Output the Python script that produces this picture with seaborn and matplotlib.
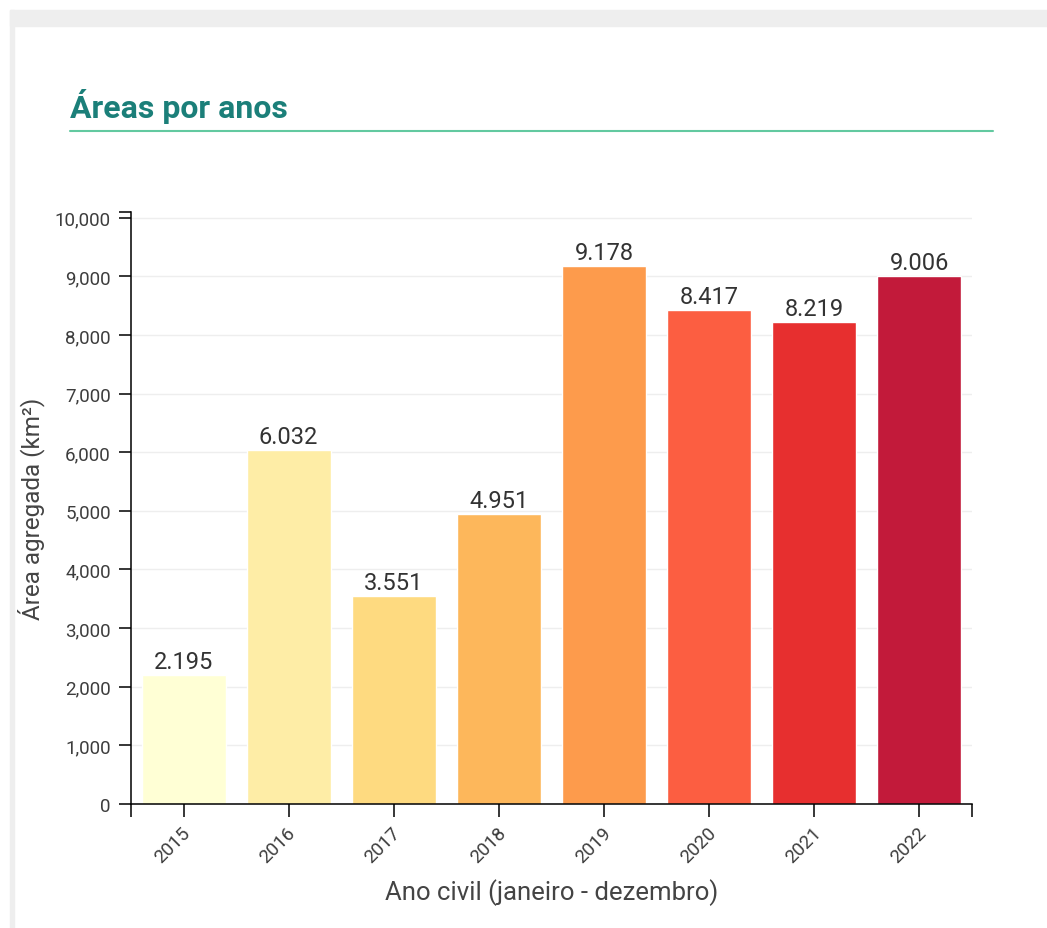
import matplotlib
matplotlib.use("Agg")
import matplotlib.pyplot as plt
from matplotlib.patches import Rectangle
from matplotlib.lines import Line2D
from matplotlib.ticker import FuncFormatter
from matplotlib.transforms import ScaledTranslation
import seaborn as sns
import pandas as pd

# Chart data
years = ["2015", "2016", "2017", "2018", "2019", "2020", "2021", "2022"]
areas = [2195, 6032, 3551, 4951, 9178, 8417, 8219, 9006]
bar_colors = ["#FFFFD5", "#FEEDA6", "#FEDA80", "#FDB75B",
              "#FD9B4C", "#FC5E41", "#E72F2F", "#C21A3A"]

df = pd.DataFrame({"Ano": years, "Area": areas})

sns.set_style("white")
plt.rcParams["font.family"] = ["Roboto", "DejaVu Sans"]

W, H = 1047, 929
fig = plt.figure(figsize=(W / 100, H / 100), dpi=100)

# page frame (grey band on top and left)
fig.patches.append(Rectangle((10 / W, 1 - 27 / H), (W - 10) / W, 16 / H,
                             transform=fig.transFigure, color="#eeeeee", zorder=0))
fig.patches.append(Rectangle((10 / W, 0), 4 / W, 1 - 11 / H,
                             transform=fig.transFigure, color="#eeeeee", zorder=0))

# title and underline
fig.text(70 / W, 1 - 106 / H, "Áreas por anos", fontsize=23, fontweight="bold",
         color="#1b7f79", va="center", ha="left")
fig.lines.append(Line2D([70 / W, 993 / W], [1 - 132 / H, 1 - 132 / H],
                        transform=fig.transFigure, color="#62c9a0", lw=1.5))

ax = fig.add_axes([131 / W, 1 - 805 / H, (972 - 131) / W, (805 - 213) / H])

sns.barplot(data=df, x="Ano", y="Area", hue="Ano", palette=bar_colors,
            legend=False, width=0.8, saturation=1, ax=ax, zorder=2)

for cont, v in zip(ax.containers, areas):
    ax.bar_label(cont, labels=[f"{v:,}".replace(",", ".")], padding=1.5,
                 fontsize=17, color="#333333")

ax.set_xlim(-0.5, len(years) - 0.5)
ax.set_ylim(0, max(areas) * 1.1)
ax.set_yticks(range(0, 10001, 1000))
ax.yaxis.set_major_formatter(FuncFormatter(lambda x, p: f"{x:,.0f}"))
ax.set_xticks(range(len(years)))
ax.set_xticks([-0.5, len(years) - 0.5], minor=True)
ax.set_yticks([max(areas) * 1.1], minor=True)

ax.grid(axis="y", color="#eeeeee", lw=1, zorder=0)
ax.set_axisbelow(True)

for s in ["top", "right"]:
    ax.spines[s].set_visible(False)
for s in ["left", "bottom"]:
    ax.spines[s].set_color("black")
    ax.spines[s].set_linewidth(1.1)

ax.tick_params(axis="both", which="both", length=9, width=1.1, color="black",
               direction="out", bottom=True, left=True)
ax.tick_params(axis="y", labelsize=13.5, labelcolor="#3d3d3d", pad=5.5)
ax.tick_params(axis="x", labelsize=13.5, labelcolor="#3d3d3d", pad=8)
ax.tick_params(axis="both", which="minor", labelsize=0)
shift = ScaledTranslation(4 / 100, -2 / 100, fig.dpi_scale_trans)
for lab in ax.get_xticklabels():
    lab.set_rotation(45)
    lab.set_ha("right")
    lab.set_va("center")
    lab.set_rotation_mode("anchor")
    lab.set_transform(lab.get_transform() + shift)

ax.set_xlabel("Ano civil (janeiro - dezembro)", fontsize=18.5, color="#444444", va="top")
ax.xaxis.set_label_coords(0.5, -(879 - 805) / (805 - 213))
ax.set_ylabel("Área agregada (km²)", fontsize=17.5, color="#444444")
ax.yaxis.set_label_coords((45 - 131) / (972 - 131), 0.5)

fig.savefig("out.png", dpi=100, facecolor="white")
